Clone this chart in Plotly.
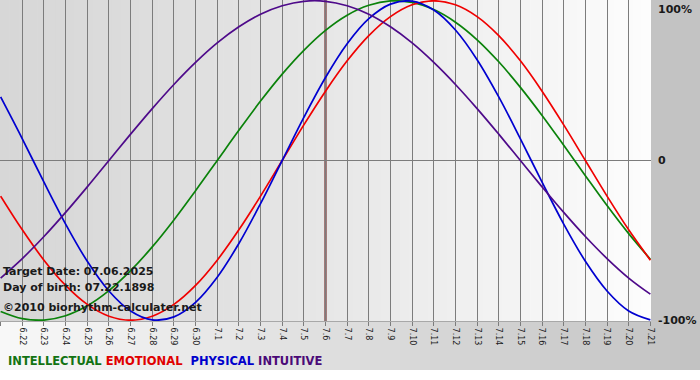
import plotly.graph_objects as go

# ---- data ----
days = ["6.21", "6.22", "6.23", "6.24", "6.25", "6.26", "6.27", "6.28", "6.29", "6.30",
        "7.1", "7.2", "7.3", "7.4", "7.5", "7.6", "7.7", "7.8", "7.9", "7.10",
        "7.11", "7.12", "7.13", "7.14", "7.15", "7.16", "7.17", "7.18", "7.19", "7.20", "7.21"]

intellectual = [-0.945, -0.990, -0.999, -0.972, -0.910, -0.815, -0.690, -0.541, -0.372, -0.189,
                0.000, 0.189, 0.372, 0.541, 0.690, 0.815, 0.910, 0.972, 0.999, 0.990,
                0.945, 0.866, 0.756, 0.618, 0.458, 0.282, 0.095, -0.095, -0.282, -0.458, -0.618]

emotional = [-0.223, -0.434, -0.624, -0.782, -0.901, -0.975, -1.000, -0.975, -0.901, -0.782,
             -0.624, -0.434, -0.223, 0.000, 0.223, 0.434, 0.624, 0.782, 0.901, 0.975,
             1.000, 0.975, 0.901, 0.782, 0.624, 0.434, 0.223, 0.000, -0.223, -0.434, -0.624]

physical = [0.398, 0.136, -0.136, -0.398, -0.631, -0.817, -0.942, -0.998, -0.979, -0.888,
            -0.731, -0.520, -0.270, 0.000, 0.270, 0.520, 0.731, 0.888, 0.979, 0.998,
            0.942, 0.817, 0.631, 0.398, 0.136, -0.136, -0.398, -0.631, -0.817, -0.942, -0.998]

intuitive = [-0.736, -0.614, -0.476, -0.325, -0.165, 0.000, 0.165, 0.325, 0.476, 0.614,
             0.736, 0.837, 0.916, 0.969, 0.997, 0.997, 0.969, 0.916, 0.837, 0.736,
             0.614, 0.476, 0.325, 0.165, 0.000, -0.165, -0.325, -0.476, -0.614, -0.736, -0.837]

series_names = ["INTELLECTUAL", "EMOTIONAL", "PHYSICAL", "INTUITIVE"]
target_day = "7.6"
y_tick_vals = [1, 0, -1]
y_tick_text = ["100%", "0", "-100%"]
info_lines = ["Target Date: 07.06.2025", "Day of birth: 07.22.1898", "\u00a92010 biorhythm-calculater.net"]

# ---- styling ----
W, H = 700, 380
ML, MR, MT, MB = 0, 49, 0, 59
PW, PH = W - ML - MR, H - MT - MB

line_colors = ["#0a820a", "#f00000", "#0000d0", "#4e0a8a"]
legend_colors = ["#137313", "#e00000", "#0000cc", "#4b0a78"]
FONT = "DejaVu Sans"

x_idx = list(range(len(days)))
series = [intellectual, emotional, physical, intuitive]

fig = go.Figure()
for name, vals, col in zip(series_names, series, line_colors):
    fig.add_trace(go.Scatter(
        x=x_idx, y=vals, mode="lines", name=name,
        line=dict(color=col, width=1.7, shape="spline", smoothing=1.0),
        hoverinfo="skip", showlegend=False,
    ))

shapes = []
# plot-area gradient (gray left -> white right)
N = 70
for k in range(N):
    t = (k + 0.5) / N
    v = int(round(215 + 38 * (t ** 1.25)))
    v = min(v, 255)
    shapes.append(dict(type="rect", xref="paper", yref="paper",
                       x0=k / N, x1=(k + 1) / N + 0.001, y0=0, y1=1,
                       fillcolor=f"rgb({v},{v},{v})", line=dict(width=0), layer="below"))
# right panel
shapes.append(dict(type="rect", xref="paper", yref="paper",
                   x0=1, x1=W / PW + 0.01, y0=0, y1=1.01,
                   fillcolor="#c3c3c3", line=dict(width=0), layer="below"))
# bottom band gradient (light left -> gray right)
band_bottom = -(370 - PH) / PH
M = 70
xmax = W / PW
for k in range(M):
    t = (k + 0.5) / M
    v = int(round(248 - 54 * t))
    shapes.append(dict(type="rect", xref="paper", yref="paper",
                       x0=k / M * xmax, x1=(k + 1) / M * xmax + 0.002, y0=band_bottom, y1=0,
                       fillcolor=f"rgb({v},{v},{v})", line=dict(width=0), layer="below"))
# target date line
ti = days.index(target_day)
shapes.append(dict(type="line", xref="x", yref="paper", x0=ti, x1=ti, y0=0, y1=1,
                   line=dict(color="#5e1010", width=2), layer="between"))

annotations = []
# right axis labels
for yv, txt in zip(y_tick_vals, y_tick_text):
    annotations.append(dict(
        xref="paper", yref="y", x=1, y=yv, text=f"<b>{txt}</b>", showarrow=False,
        xanchor="left", yanchor="top" if yv == 1 else "middle", xshift=5,
        font=dict(family=FONT, size=11, color="#1a1a1a"),
    ))
# info text
info_y_px = [271, 287, 307]
for txt, ypx in zip(info_lines, info_y_px):
    annotations.append(dict(
        xref="paper", yref="paper", x=1 / PW, y=(PH - ypx) / PH, text=f"<b>{txt}</b>",
        showarrow=False, xanchor="left", yanchor="middle",
        font=dict(family=FONT, size=11, color="#1a1a1a"),
    ))
# legend line
legend_html = "".join([
    f"<span style='color:{legend_colors[0]}'>{series_names[0]}</span> ",
    f"<span style='color:{legend_colors[1]}'>{series_names[1]}</span>&nbsp; ",
    f"<span style='color:{legend_colors[2]}'>{series_names[2]}</span> ",
    f"<span style='color:{legend_colors[3]}'>{series_names[3]}</span>",
])
annotations.append(dict(
    xref="paper", yref="paper", x=6 / PW, y=(PH - 361) / PH, text=f"<b>{legend_html}</b>",
    showarrow=False, xanchor="left", yanchor="middle",
    font=dict(family=FONT, size=11.5),
))

fig.update_layout(
    width=W, height=H, autosize=False,
    margin=dict(l=ML, r=MR, t=MT, b=MB, pad=0),
    paper_bgcolor="#ffffff", plot_bgcolor="rgba(0,0,0,0)",
    shapes=shapes, annotations=annotations, showlegend=False,
    xaxis=dict(
        range=[-0.03, len(days) - 1 + 0.03], tickmode="array", tickvals=x_idx, ticktext=days,
        tickangle=90, showgrid=True, gridcolor="#7c7c7c", gridwidth=1, zeroline=False,
        ticks="outside", ticklen=4, tickcolor="#7c7c7c", tickwidth=1,
        tickfont=dict(family=FONT, size=8, color="#1a1a1a"),
        showline=True, linecolor="#a8a8a8", linewidth=1, fixedrange=True,
    ),
    yaxis=dict(
        range=[-1.005, 1.005], tickmode="array", tickvals=[0], showticklabels=False,
        showgrid=True, gridcolor="#7c7c7c", gridwidth=1, zeroline=False, fixedrange=True,
    ),
)

fig.write_html(
    "out.html",
    config={"displayModeBar": False},
    post_script="document.body.style.margin='0';document.body.style.overflow='hidden';",
)
